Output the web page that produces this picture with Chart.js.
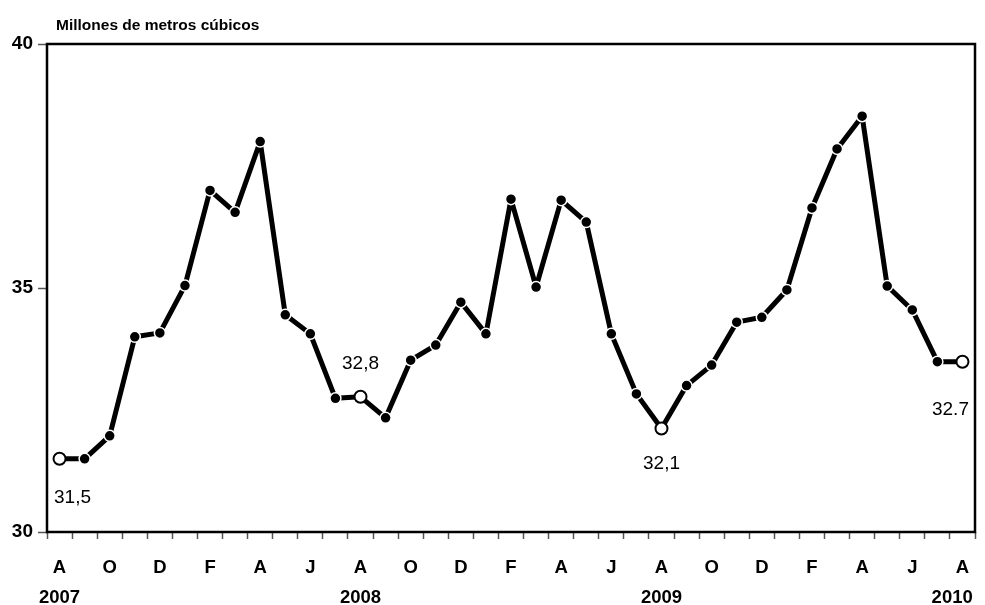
<!DOCTYPE html>
<html>
<head>
<meta charset="utf-8">
<script src="https://cdn.jsdelivr.net/npm/chart.js@4"></script>
<style>
  html, body { margin: 0; padding: 0; background: #fff; }
</style>
</head>
<body>
<canvas id="waterChart" width="985" height="605"></canvas>
<script>
// Monthly series, Aug 2007 .. Aug 2010
const months = [
  "A", "S", "O", "N", "D", "E", "F", "M", "A", "M", "J", "J",
  "A", "S", "O", "N", "D", "E", "F", "M", "A", "M", "J", "J",
  "A", "S", "O", "N", "D", "E", "F", "M", "A", "M", "J", "J",
  "A"
];
// last year label is padded so it stays inside the frame
const years = { 0: "2007", 12: "2008", 24: "2009", 36: "2010    " };
const values = [
  31.5, 31.5, 31.97, 34.0, 34.08, 35.05, 37.0, 36.55, 38.0, 34.45, 34.06, 32.74,
  32.77, 32.34, 33.52, 33.83, 34.71, 34.06, 36.82, 35.02, 36.8, 36.35, 34.06, 32.83,
  32.12, 33.0, 33.42, 34.3, 34.4, 34.96, 36.64, 37.85, 38.52, 35.04, 34.55, 33.49,
  33.49
];
const hollowPoints = [0, 12, 24, 36];
const pointNotes = { 0: "31,5", 12: "32,8", 24: "32,1", 36: "32.7" };
const yTicks = [30, 35, 40];

const FONT = "'Liberation Sans', Arial, sans-serif";

// Frame, title and point notes
const decorPlugin = {
  id: "decor",
  beforeDatasetsDraw(chart) {
    const { ctx, chartArea: a } = chart;
    ctx.save();
    ctx.strokeStyle = "#000";
    ctx.lineWidth = 2.5;
    ctx.strokeRect(a.left, a.top, a.right - a.left, a.bottom - a.top);
    ctx.restore();
  },
  afterDatasetsDraw(chart) {
    const { ctx } = chart;
    const meta = chart.getDatasetMeta(0);
    ctx.save();
    ctx.fillStyle = "#000";
    ctx.font = "bold 15.5px " + FONT;
    ctx.textAlign = "left";
    ctx.textBaseline = "alphabetic";
    ctx.fillText("Millones de metros cúbicos", 56, 30);

    ctx.font = "19px " + FONT;
    ctx.textAlign = "center";
    ctx.textBaseline = "middle";
    const offs = { 0: [13, 39], 12: [0, -33], 24: [0, 35], 36: [-12, 48] };
    Object.keys(pointNotes).forEach((k) => {
      const p = meta.data[k];
      ctx.fillText(pointNotes[k], p.x + offs[k][0], p.y + offs[k][1]);
    });
    ctx.restore();
  },
};

new Chart(document.getElementById("waterChart"), {
  type: "line",
  data: {
    labels: months,
    datasets: [
      {
        data: values,
        borderColor: "#000",
        borderWidth: 5,
        borderJoinStyle: "round",
        tension: 0,
        pointRadius: (c) => (hollowPoints.includes(c.dataIndex) ? 6 : 5.5),
        pointBackgroundColor: (c) => (hollowPoints.includes(c.dataIndex) ? "#fff" : "#000"),
        pointBorderColor: (c) => (hollowPoints.includes(c.dataIndex) ? "#000" : "#fff"),
        pointBorderWidth: (c) => (hollowPoints.includes(c.dataIndex) ? 2 : 1.5),
      },
    ],
  },
  options: {
    responsive: false,
    animation: false,
    devicePixelRatio: 1,
    layout: { padding: { top: 44, right: 10, left: 0, bottom: 0 } },
    plugins: {
      legend: { display: false },
      tooltip: { enabled: false },
    },
    scales: {
      x: {
        offset: true,
        grid: {
          offset: true,
          drawOnChartArea: false,
          tickLength: 7,
          tickWidth: 1.5,
          tickColor: "#555",
        },
        border: { display: false },
        ticks: {
          autoSkip: false,
          maxRotation: 0,
          padding: 14,
          color: "#000",
          font: { family: FONT, size: 18.5, weight: "bold", lineHeight: 1.62 },
          callback: function (v, i) {
            if (i % 2 !== 0) return "";
            return years[i] ? [months[i], years[i]] : [months[i], ""];
          },
        },
        afterFit(scale) {
          scale.height = 73;
          scale.paddingLeft = 0;
          scale.paddingRight = 0;
        },
      },
      y: {
        min: 30,
        max: 40,
        afterBuildTicks(scale) { scale.ticks = yTicks.map((v) => ({ value: v })); },
        grid: {
          drawOnChartArea: false,
          tickLength: 9,
          tickWidth: 1.5,
          tickColor: "#555",
        },
        border: { display: false },
        ticks: {
          padding: 5,
          color: "#000",
          font: { family: FONT, size: 19, weight: "bold" },
        },
        afterFit(scale) { scale.width = 47; },
      },
    },
  },
  plugins: [decorPlugin],
});
</script>
</body>
</html>
